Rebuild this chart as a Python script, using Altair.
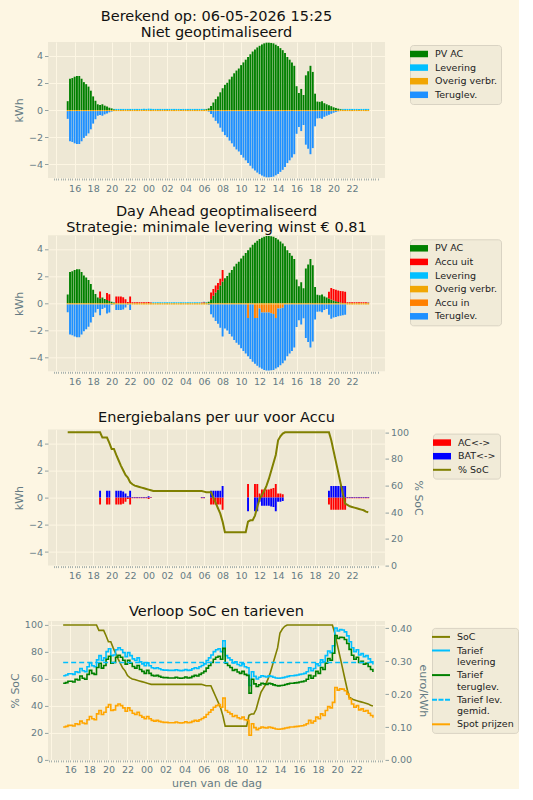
import altair as alt
import pandas as pd

FONT = "DejaVu Sans"
BG = "#FDF6E3"
PANEL = "#EEE8D5"
GRID = "#FDF6E3"
TXT = "#657b83"
OLIVE = "#808000"

# quarter-hour slots, first slot 15:15 on day one, last 23:45 on day two
quarter_start = 15.25

# --- energy per quarter (kWh), one row per hour (first row 15:15..15:45) ---
pv_ac = [
    0.65, 2.30, 2.35,
    2.45, 2.50, 2.50, 2.30,
    2.05, 1.90, 1.72, 1.42,
    1.00, 0.68, 0.42, 0.37,
    0.42, 0.32, 0.25, 0.17,
    0.12, 0.05, 0.00, 0.00,
    0.00, 0.00, 0.00, 0.00,
    0.00, 0.00, 0.00, 0.00,
    0.00, 0.00, 0.00, 0.00,
    0.00, 0.00, 0.00, 0.00,
    0.00, 0.00, 0.00, 0.00,
    0.00, 0.00, 0.00, 0.00,
    0.00, 0.00, 0.00, 0.00,
    0.00, 0.00, 0.00, 0.00,
    0.00, 0.00, 0.00, 0.00,
    0.03, 0.06, 0.12, 0.30,
    0.55, 0.80, 1.00, 1.30,
    1.60, 1.85, 2.00, 2.25,
    2.45, 2.70, 2.90, 3.05,
    3.30, 3.50, 3.70, 3.90,
    4.10, 4.30, 4.45, 4.60,
    4.72, 4.82, 4.90, 4.95,
    4.95, 4.93, 4.90, 4.80,
    4.70, 4.55, 4.40, 4.20,
    3.90, 3.70, 3.50, 3.25,
    1.75, 1.25, 1.55, 1.10,
    2.55, 2.85, 3.25, 2.80,
    1.20, 0.62, 0.60, 0.65,
    0.50, 0.42, 0.35, 0.28,
    0.20, 0.15, 0.10, 0.06,
    0.03, 0.00, 0.00, 0.00,
    0.00, 0.00, 0.00, 0.00,
    0.00, 0.00, 0.00, 0.00,
]

levering_basis = [
    0.00, 0.00, 0.00,
    0.00, 0.00, 0.00, 0.00,
    0.00, 0.00, 0.00, 0.00,
    0.00, 0.00, 0.00, 0.00,
    0.00, 0.00, 0.00, 0.00,
    0.00, 0.03, 0.08, 0.08,
    0.08, 0.08, 0.08, 0.08,
    0.08, 0.08, 0.08, 0.08,
    0.08, 0.08, 0.09, 0.08,
    0.10, 0.09, 0.08, 0.08,
    0.08, 0.08, 0.08, 0.08,
    0.08, 0.08, 0.08, 0.08,
    0.08, 0.08, 0.08, 0.08,
    0.08, 0.08, 0.08, 0.08,
    0.08, 0.08, 0.08, 0.08,
    0.05, 0.02, 0.00, 0.00,
    0.00, 0.00, 0.00, 0.00,
    0.00, 0.00, 0.00, 0.00,
    0.00, 0.00, 0.00, 0.00,
    0.00, 0.00, 0.00, 0.00,
    0.00, 0.00, 0.00, 0.00,
    0.00, 0.00, 0.00, 0.00,
    0.00, 0.00, 0.00, 0.00,
    0.00, 0.00, 0.00, 0.00,
    0.00, 0.00, 0.00, 0.00,
    0.00, 0.00, 0.00, 0.00,
    0.00, 0.00, 0.00, 0.00,
    0.00, 0.00, 0.00, 0.00,
    0.00, 0.00, 0.00, 0.00,
    0.00, 0.00, 0.00, 0.02,
    0.05, 0.08, 0.08, 0.08,
    0.08, 0.08, 0.08, 0.08,
    0.08, 0.08, 0.08, 0.08,
]

overig_verbr = [
    -0.08, -0.08, -0.08,
    -0.08, -0.08, -0.08, -0.08,
    -0.08, -0.08, -0.08, -0.08,
    -0.08, -0.08, -0.08, -0.08,
    -0.08, -0.08, -0.08, -0.08,
    -0.08, -0.08, -0.08, -0.08,
    -0.08, -0.08, -0.08, -0.08,
    -0.08, -0.08, -0.08, -0.08,
    -0.08, -0.08, -0.08, -0.08,
    -0.08, -0.08, -0.08, -0.08,
    -0.08, -0.08, -0.08, -0.08,
    -0.08, -0.08, -0.08, -0.08,
    -0.08, -0.08, -0.08, -0.08,
    -0.08, -0.08, -0.08, -0.08,
    -0.08, -0.08, -0.08, -0.08,
    -0.08, -0.08, -0.08, -0.08,
    -0.08, -0.08, -0.08, -0.08,
    -0.08, -0.08, -0.08, -0.08,
    -0.08, -0.08, -0.08, -0.08,
    -0.08, -0.08, -0.08, -0.08,
    -0.08, -0.08, -0.08, -0.08,
    -0.08, -0.08, -0.08, -0.08,
    -0.08, -0.08, -0.08, -0.08,
    -0.08, -0.08, -0.08, -0.08,
    -0.08, -0.08, -0.08, -0.08,
    -0.08, -0.08, -0.08, -0.08,
    -0.08, -0.08, -0.08, -0.08,
    -0.08, -0.08, -0.08, -0.08,
    -0.08, -0.08, -0.08, -0.08,
    -0.08, -0.08, -0.08, -0.08,
    -0.08, -0.08, -0.08, -0.08,
    -0.08, -0.08, -0.08, -0.08,
    -0.08, -0.08, -0.08, -0.08,
]

teruglevering_basis = [
    -0.57, -2.22, -2.27,
    -2.37, -2.42, -2.42, -2.22,
    -1.97, -1.82, -1.64, -1.34,
    -0.92, -0.60, -0.34, -0.29,
    -0.34, -0.24, -0.17, -0.09,
    -0.04, 0.00, 0.00, 0.00,
    0.00, 0.00, 0.00, 0.00,
    0.00, 0.00, 0.00, 0.00,
    0.00, 0.00, 0.00, 0.00,
    0.00, 0.00, 0.00, 0.00,
    0.00, 0.00, 0.00, 0.00,
    0.00, 0.00, 0.00, 0.00,
    0.00, 0.00, 0.00, 0.00,
    0.00, 0.00, 0.00, 0.00,
    0.00, 0.00, 0.00, 0.00,
    0.00, 0.00, -0.04, -0.22,
    -0.47, -0.72, -0.92, -1.22,
    -1.52, -1.77, -1.92, -2.17,
    -2.37, -2.62, -2.82, -2.97,
    -3.22, -3.42, -3.62, -3.82,
    -4.02, -4.22, -4.37, -4.52,
    -4.64, -4.74, -4.82, -4.87,
    -4.87, -4.85, -4.82, -4.72,
    -4.62, -4.47, -4.32, -4.12,
    -3.82, -3.62, -3.42, -3.17,
    -1.67, -1.17, -1.47, -1.02,
    -2.47, -2.77, -3.17, -2.72,
    -1.12, -0.54, -0.52, -0.57,
    -0.42, -0.34, -0.27, -0.20,
    -0.12, -0.07, -0.02, 0.00,
    0.00, 0.00, 0.00, 0.00,
    0.00, 0.00, 0.00, 0.00,
    0.00, 0.00, 0.00, 0.00,
]

accu_uit = [
    0.00, 0.00, 0.00,
    0.00, 0.00, 0.00, 0.00,
    0.00, 0.00, 0.00, 0.00,
    0.00, 0.00, 0.00, 0.50,
    0.00, 0.00, 0.50, 0.50,
    0.00, 0.00, 0.50, 0.50,
    0.50, 0.45, 0.30, 0.10,
    0.50, 0.08, 0.08, 0.08,
    0.08, 0.08, 0.08, 0.08,
    0.10, 0.06, 0.00, 0.00,
    0.00, 0.00, 0.00, 0.00,
    0.00, 0.00, 0.00, 0.00,
    0.00, 0.00, 0.00, 0.00,
    0.00, 0.00, 0.00, 0.00,
    0.00, 0.00, 0.00, 0.05,
    0.05, 0.00, 0.00, 0.50,
    0.50, 0.50, 0.50, 0.50,
    0.85, 0.00, 0.00, 0.00,
    0.00, 0.00, 0.00, 0.00,
    0.00, 0.00, 0.00, 0.00,
    0.00, 0.00, 0.00, 0.00,
    0.00, 0.00, 0.00, 0.00,
    0.00, 0.00, 0.00, 0.00,
    0.00, 0.00, 0.00, 0.00,
    0.00, 0.00, 0.00, 0.00,
    0.00, 0.00, 0.00, 0.00,
    0.00, 0.00, 0.00, 0.00,
    0.00, 0.00, 0.00, 0.00,
    0.00, 0.00, 0.50, 0.85,
    0.85, 0.85, 0.85, 0.85,
    0.85, 0.85, 0.08, 0.08,
    0.08, 0.08, 0.08, 0.08,
    0.08, 0.08, 0.08, 0.06,
]

levering_opt = [
    0.00, 0.00, 0.00,
    0.00, 0.00, 0.00, 0.00,
    0.00, 0.00, 0.00, 0.00,
    0.00, 0.00, 0.00, 0.00,
    0.00, 0.00, 0.00, 0.00,
    0.00, 0.03, 0.00, 0.00,
    0.00, 0.00, 0.00, 0.00,
    0.00, 0.00, 0.00, 0.00,
    0.00, 0.00, 0.00, 0.00,
    0.00, 0.02, 0.08, 0.08,
    0.08, 0.08, 0.08, 0.08,
    0.08, 0.08, 0.08, 0.08,
    0.08, 0.08, 0.08, 0.08,
    0.08, 0.08, 0.08, 0.08,
    0.08, 0.08, 0.08, 0.03,
    0.03, 0.02, 0.00, 0.00,
    0.00, 0.00, 0.00, 0.00,
    0.00, 0.00, 0.00, 0.00,
    0.00, 0.00, 0.00, 0.00,
    0.00, 0.00, 0.00, 0.00,
    0.00, 0.00, 0.00, 0.00,
    0.00, 0.00, 0.00, 0.00,
    0.00, 0.00, 0.00, 0.00,
    0.00, 0.00, 0.00, 0.00,
    0.00, 0.00, 0.00, 0.00,
    0.00, 0.00, 0.00, 0.00,
    0.00, 0.00, 0.00, 0.00,
    0.00, 0.00, 0.00, 0.00,
    0.00, 0.00, 0.00, 0.00,
    0.00, 0.00, 0.00, 0.00,
    0.00, 0.00, 0.00, 0.00,
    0.00, 0.00, 0.00, 0.00,
    0.00, 0.00, 0.00, 0.02,
]

accu_in = [
    0.00, 0.00, 0.00,
    0.00, 0.00, 0.00, 0.00,
    0.00, 0.00, 0.00, 0.00,
    0.00, 0.00, 0.00, 0.00,
    0.00, 0.00, 0.00, 0.00,
    0.00, 0.00, 0.00, 0.00,
    0.00, 0.00, 0.00, 0.00,
    0.00, 0.00, 0.00, 0.00,
    0.00, 0.00, 0.00, 0.00,
    0.00, 0.00, 0.00, 0.00,
    0.00, 0.00, 0.00, 0.00,
    0.00, 0.00, 0.00, 0.00,
    0.00, 0.00, 0.00, 0.00,
    0.00, 0.00, 0.00, 0.00,
    0.00, 0.00, 0.00, 0.00,
    0.00, 0.00, 0.00, 0.00,
    0.00, 0.00, 0.00, 0.00,
    0.00, 0.00, 0.00, 0.00,
    0.00, 0.00, 0.00, 0.00,
    0.00, 0.00, 0.00, -1.00,
    0.00, 0.00, -1.00, -1.00,
    -0.30, -0.60, -0.60, -0.60,
    -0.60, -0.65, -0.70, -1.00,
    -0.30, -0.30, -0.25, 0.00,
    0.00, 0.00, 0.00, 0.00,
    0.00, 0.00, 0.00, 0.00,
    0.00, 0.00, 0.00, 0.00,
    0.00, 0.00, 0.00, 0.00,
    0.00, 0.00, 0.00, 0.00,
    0.00, 0.00, 0.00, 0.00,
    0.00, 0.00, 0.00, 0.00,
    0.00, 0.00, 0.00, 0.00,
    0.00, 0.00, 0.00, 0.00,
]

teruglevering_opt = [
    -0.57, -2.22, -2.27,
    -2.37, -2.42, -2.42, -2.22,
    -1.97, -1.82, -1.64, -1.34,
    -0.92, -0.60, -0.34, -0.79,
    -0.34, -0.24, -0.67, -0.59,
    -0.04, 0.00, -0.42, -0.42,
    -0.42, -0.37, -0.22, -0.02,
    -0.42, 0.00, 0.00, 0.00,
    0.00, 0.00, 0.00, 0.00,
    0.00, 0.00, 0.00, 0.00,
    0.00, 0.00, 0.00, 0.00,
    0.00, 0.00, 0.00, 0.00,
    0.00, 0.00, 0.00, 0.00,
    0.00, 0.00, 0.00, 0.00,
    0.00, 0.00, 0.00, 0.00,
    0.00, 0.00, -0.04, -0.72,
    -0.97, -1.22, -1.42, -1.72,
    -2.37, -1.77, -1.92, -2.17,
    -2.37, -2.62, -2.82, -2.97,
    -3.22, -3.42, -3.62, -2.82,
    -4.02, -4.22, -3.37, -3.52,
    -4.34, -4.14, -4.22, -4.27,
    -4.27, -4.20, -4.12, -3.72,
    -4.32, -4.17, -4.07, -4.12,
    -3.82, -3.62, -3.42, -3.17,
    -1.67, -1.17, -1.47, -1.02,
    -2.47, -2.77, -3.17, -2.72,
    -1.12, -0.54, -0.52, -0.57,
    -0.42, -0.34, -0.77, -1.05,
    -0.97, -0.92, -0.87, -0.83,
    -0.80, -0.77, 0.00, 0.00,
    0.00, 0.00, 0.00, 0.00,
    0.00, 0.00, 0.00, 0.00,
]

# battery balance per quarter: AC side and battery side (kWh)
ac_balans = [
    0.00, 0.00, 0.00,
    0.00, 0.00, 0.00, 0.00,
    0.00, 0.00, 0.00, 0.00,
    0.00, 0.00, 0.00, -0.50,
    0.00, 0.00, -0.50, -0.50,
    0.00, 0.00, -0.50, -0.50,
    -0.50, -0.45, -0.30, -0.10,
    -0.50, -0.05, -0.05, -0.05,
    -0.05, -0.05, -0.05, -0.05,
    -0.10, -0.03, 0.00, 0.00,
    0.00, 0.00, 0.00, 0.00,
    0.00, 0.00, 0.00, 0.00,
    0.00, 0.00, 0.00, 0.00,
    0.00, 0.00, 0.00, 0.00,
    0.00, 0.00, 0.00, -0.05,
    -0.05, 0.00, 0.00, -0.50,
    -0.50, -0.50, -0.50, -0.50,
    -0.90, 0.00, 0.00, 0.00,
    0.00, 0.00, 0.00, 0.00,
    0.00, 0.00, 0.00, 1.00,
    0.00, 0.00, 1.00, 1.00,
    0.30, 0.60, 0.60, 0.60,
    0.60, 0.65, 0.70, 1.00,
    0.30, 0.30, 0.25, 0.00,
    0.00, 0.00, 0.00, 0.00,
    0.00, 0.00, 0.00, 0.00,
    0.00, 0.00, 0.00, 0.00,
    0.00, 0.00, 0.00, 0.00,
    0.00, 0.00, -0.50, -0.90,
    -0.90, -0.90, -0.90, -0.90,
    -0.90, -0.90, -0.05, -0.05,
    -0.05, -0.05, -0.05, -0.05,
    -0.05, -0.05, -0.05, -0.04,
]

bat_balans = [
    0.00, 0.00, 0.00,
    0.00, 0.00, 0.00, 0.00,
    0.00, 0.00, 0.00, 0.00,
    0.00, 0.00, 0.00, 0.50,
    0.00, 0.00, 0.50, 0.50,
    0.00, 0.00, 0.50, 0.50,
    0.50, 0.45, 0.30, 0.10,
    0.50, 0.05, 0.05, 0.05,
    0.05, 0.05, 0.05, 0.05,
    0.10, 0.03, 0.00, 0.00,
    0.00, 0.00, 0.00, 0.00,
    0.00, 0.00, 0.00, 0.00,
    0.00, 0.00, 0.00, 0.00,
    0.00, 0.00, 0.00, 0.00,
    0.00, 0.00, 0.00, 0.05,
    0.05, 0.00, 0.00, 0.50,
    0.50, 0.50, 0.50, 0.50,
    0.85, 0.00, 0.00, 0.00,
    0.00, 0.00, 0.00, 0.00,
    0.00, 0.00, 0.00, -1.00,
    0.00, 0.00, -1.00, -1.00,
    -0.30, -0.60, -0.60, -0.60,
    -0.60, -0.65, -0.70, -1.00,
    -0.30, -0.30, -0.25, 0.00,
    0.00, 0.00, 0.00, 0.00,
    0.00, 0.00, 0.00, 0.00,
    0.00, 0.00, 0.00, 0.00,
    0.00, 0.00, 0.00, 0.00,
    0.00, 0.00, 0.50, 0.85,
    0.85, 0.85, 0.85, 0.85,
    0.85, 0.85, 0.05, 0.05,
    0.05, 0.05, 0.05, 0.05,
    0.05, 0.05, 0.05, 0.04,
]

# state of charge (%)
soc = [
    100, 100, 100,
    100, 100, 100, 100,
    100, 100, 100, 100,
    100, 100, 100, 100,
    96, 96, 96, 92,
    87.5, 87.5, 83, 79,
    75, 71.5, 68, 66,
    62.5, 61, 60, 59.5,
    59, 58.5, 58, 57.5,
    57, 56.5, 56, 56,
    56, 56, 56, 56,
    56, 56, 56, 56,
    56, 56, 56, 56,
    56, 56, 56, 56,
    56, 56, 56, 56,
    55.5, 55, 55, 55,
    51, 47, 43, 39,
    33, 25, 25, 25,
    25, 25, 25, 25,
    25, 25, 25, 33,
    34, 34, 37.5, 44,
    50, 53, 56, 60,
    65, 71, 77, 83,
    94, 97, 99, 100,
    100, 100, 100, 100,
    100, 100, 100, 100,
    100, 100, 100, 100,
    100, 100, 100, 100,
    100, 100, 100, 94,
    86, 78, 70, 62,
    54, 46.5, 45.5, 44.5,
    44, 43.5, 43, 42.5,
    42, 41.5, 40.5, 40,
]

# prices (euro/kWh)
spot_prijs = [
    0.100, 0.102, 0.105,
    0.105, 0.103, 0.110, 0.108,
    0.118, 0.112, 0.110, 0.122,
    0.132, 0.125, 0.122, 0.140,
    0.150, 0.138, 0.145, 0.160,
    0.168, 0.150, 0.152, 0.165,
    0.170, 0.165, 0.158, 0.148,
    0.158, 0.150, 0.142, 0.138,
    0.145, 0.135, 0.130, 0.125,
    0.132, 0.125, 0.120, 0.118,
    0.120, 0.117, 0.115, 0.114,
    0.114, 0.113, 0.113, 0.113,
    0.115, 0.113, 0.112, 0.113,
    0.116, 0.113, 0.114, 0.117,
    0.120, 0.118, 0.122, 0.126,
    0.130, 0.138, 0.145, 0.152,
    0.160, 0.165, 0.168, 0.160,
    0.188, 0.150, 0.145, 0.140,
    0.132, 0.135, 0.128, 0.125,
    0.130, 0.122, 0.120, 0.075,
    0.110, 0.098, 0.092, 0.096,
    0.100, 0.098, 0.097, 0.100,
    0.098, 0.096, 0.094, 0.093,
    0.094, 0.095, 0.097, 0.098,
    0.100, 0.100, 0.101, 0.102,
    0.103, 0.104, 0.106, 0.110,
    0.120, 0.112, 0.118, 0.130,
    0.125, 0.140, 0.135, 0.150,
    0.162, 0.158, 0.175, 0.220,
    0.212, 0.216, 0.215, 0.210,
    0.200, 0.185, 0.170, 0.160,
    0.165, 0.152, 0.155, 0.148,
    0.150, 0.142, 0.135, 0.128,
]

tarief_levering = [
    0.256, 0.258, 0.262,
    0.262, 0.260, 0.268, 0.266,
    0.278, 0.271, 0.268, 0.283,
    0.295, 0.286, 0.283, 0.304,
    0.317, 0.302, 0.310, 0.329,
    0.338, 0.317, 0.319, 0.335,
    0.341, 0.335, 0.326, 0.314,
    0.326, 0.317, 0.307, 0.302,
    0.310, 0.298, 0.292, 0.286,
    0.295, 0.286, 0.280, 0.278,
    0.280, 0.277, 0.274, 0.273,
    0.273, 0.272, 0.272, 0.272,
    0.274, 0.272, 0.271, 0.272,
    0.275, 0.272, 0.273, 0.277,
    0.280, 0.278, 0.283, 0.287,
    0.292, 0.302, 0.310, 0.319,
    0.329, 0.335, 0.338, 0.329,
    0.362, 0.317, 0.310, 0.304,
    0.295, 0.298, 0.290, 0.286,
    0.292, 0.283, 0.280, 0.226,
    0.268, 0.254, 0.246, 0.251,
    0.256, 0.254, 0.252, 0.256,
    0.254, 0.251, 0.249, 0.248,
    0.249, 0.250, 0.252, 0.254,
    0.256, 0.256, 0.257, 0.258,
    0.260, 0.261, 0.263, 0.268,
    0.280, 0.271, 0.278, 0.292,
    0.286, 0.304, 0.298, 0.317,
    0.331, 0.326, 0.347, 0.401,
    0.392, 0.396, 0.395, 0.389,
    0.377, 0.359, 0.341, 0.329,
    0.335, 0.319, 0.323, 0.314,
    0.317, 0.307, 0.298, 0.290,
]

tarief_teruglevering = [
    0.233, 0.235, 0.239,
    0.239, 0.237, 0.245, 0.243,
    0.255, 0.248, 0.245, 0.260,
    0.272, 0.263, 0.260, 0.281,
    0.294, 0.279, 0.287, 0.306,
    0.315, 0.294, 0.296, 0.312,
    0.318, 0.312, 0.303, 0.291,
    0.303, 0.294, 0.284, 0.279,
    0.287, 0.275, 0.269, 0.263,
    0.272, 0.263, 0.257, 0.255,
    0.257, 0.254, 0.251, 0.250,
    0.250, 0.249, 0.249, 0.249,
    0.251, 0.249, 0.248, 0.249,
    0.252, 0.249, 0.250, 0.254,
    0.257, 0.255, 0.260, 0.264,
    0.269, 0.279, 0.287, 0.296,
    0.306, 0.312, 0.315, 0.306,
    0.339, 0.294, 0.287, 0.281,
    0.272, 0.275, 0.267, 0.263,
    0.269, 0.260, 0.257, 0.203,
    0.245, 0.231, 0.223, 0.228,
    0.233, 0.231, 0.229, 0.233,
    0.231, 0.228, 0.226, 0.225,
    0.226, 0.227, 0.229, 0.231,
    0.233, 0.233, 0.234, 0.235,
    0.237, 0.238, 0.240, 0.245,
    0.257, 0.248, 0.255, 0.269,
    0.263, 0.281, 0.275, 0.294,
    0.308, 0.303, 0.324, 0.378,
    0.369, 0.373, 0.372, 0.366,
    0.354, 0.336, 0.318, 0.306,
    0.312, 0.296, 0.300, 0.291,
    0.294, 0.284, 0.275, 0.267,
]

tarief_levering_gemiddeld = 0.296

hours = [quarter_start + 0.25 * k for k in range(len(pv_ac))]

# --- shared styling helpers ---
X_DOMAIN = [13.66, 49.02]
W = 337
H = 136

x_ticks = [13.75 + 0.25 * k for k in range(141)]


def x_axis(title=None):
    return alt.Axis(
        values=x_ticks,
        title=title,
        grid=True,
        gridOpacity={"condition": {"test": "datum.value % 2 === 0", "value": 1}, "value": 0},
        labelExpr="datum.value % 2 === 0 && datum.value >= 16 && datum.value <= 46 ? format(datum.value % 24, '02d') : ''",
        labelOverlap=False,
        labelBound=False,
        labelFlush=False,
        tickSize=2,
        tickWidth=0.8,
        labelPadding=3,
        titlePadding=3,
    )


def x_enc(title=None):
    return alt.X("t:Q", scale=alt.Scale(domain=X_DOMAIN, nice=False, zero=False), axis=x_axis(title))


RECT = "M-1.8,-0.65H1.8V0.65H-1.8Z"
LINE = "M-1.8,-0.2H1.8V0.2H-1.8Z"
DASH = "M-1.8,-0.2H-0.8V0.2H-1.8Z M-0.5,-0.2H0.5V0.2H-0.5Z M0.8,-0.2H1.8V0.2H0.8Z"


def key(names, colors, shapes, lx, ly, label_expr=None):
    opts = dict(
        title=None, orient="none", legendX=lx, legendY=ly,
        symbolSize=100, symbolStrokeWidth=0, labelOffset=11,
        labelFont=FONT, labelFontSize=9.5, labelColor="#222222",
        padding=4, rowPadding=3.6, fillColor="#F1EBD8", strokeColor="#D9D3C3",
        cornerRadius=3,
    )
    if label_expr:
        opts["labelExpr"] = label_expr
    lg = alt.Legend(**opts)
    return (
        alt.Chart(pd.DataFrame({"series": names}))
        .transform_filter("false")
        .mark_point(filled=True, opacity=1)
        .encode(
            x=alt.value(0), y=alt.value(0),
            color=alt.Color("series:N", scale=alt.Scale(domain=names, range=colors), legend=lg),
            shape=alt.Shape("series:N", scale=alt.Scale(domain=names, range=shapes), legend=lg),
        )
    )


def long_frame(series):
    rows = []
    for order, (name, vals) in enumerate(series):
        for t, v in zip(hours, vals):
            rows.append({"t": t, "value": v, "series": name, "order": order})
    return pd.DataFrame(rows)


def stacked_bars(series, colors):
    names = [s[0] for s in series]
    return (
        alt.Chart(long_frame(series))
        .mark_bar(size=1.9, clip=True)
        .encode(
            x=x_enc(),
            y=alt.Y("value:Q", stack="zero", scale=alt.Scale(domain=[-5, 5], nice=False),
                    axis=alt.Axis(values=[-4, -2, 0, 2, 4], title="kWh")),
            color=alt.Color("series:N", scale=alt.Scale(domain=names, range=colors), legend=None),
            order=alt.Order("order:Q"),
        )
    )


def title(lines, offset, line_height=16):
    return alt.TitleParams(text=lines, font=FONT, fontSize=14.5, fontWeight="normal",
                           color="#111111", anchor="middle", frame="group",
                           lineHeight=line_height, offset=offset)


# --- panel 1: no optimisation ---
p1_series = [
    ("PV AC", pv_ac), ("Levering", levering_basis),
    ("Overig verbr.", overig_verbr), ("Teruglev.", teruglevering_basis),
]
p1_colors = ["#008000", "#00BFFF", "#F1A603", "#1E90FF"]
panel1 = alt.layer(
    stacked_bars(p1_series, p1_colors),
    key([s[0] for s in p1_series], p1_colors, [RECT] * 4, 362, 3),
).resolve_scale(color="independent", shape="independent").properties(
    width=W, height=H, title=title(["Berekend op: 06-05-2026 15:25", "Niet geoptimaliseerd"], 2))

# --- panel 2: day-ahead optimised ---
p2_series = [
    ("PV AC", pv_ac), ("Accu uit", accu_uit), ("Levering", levering_opt),
    ("Overig verbr.", overig_verbr), ("Accu in", accu_in), ("Teruglev.", teruglevering_opt),
]
p2_colors = ["#008000", "#FF0000", "#00BFFF", "#F1A603", "#FF8000", "#1E90FF"]
panel2 = alt.layer(
    stacked_bars(p2_series, p2_colors),
    key([s[0] for s in p2_series], p2_colors, [RECT] * 6, 362, 4),
).resolve_scale(color="independent", shape="independent").properties(
    width=W, height=H,
    title=title(["Day Ahead geoptimaliseerd", "Strategie: minimale levering winst \u20ac 0.81"], 0))

# --- panel 3: battery energy balance + SoC ---
p3_df = long_frame([("AC<->", ac_balans), ("BAT<->", bat_balans)])
p3_bars = (
    alt.Chart(p3_df).mark_bar(size=1.9, clip=True).encode(
        x=x_enc(),
        y=alt.Y("value:Q", stack=None, scale=alt.Scale(domain=[-5, 5], nice=False),
                axis=alt.Axis(values=[-4, -2, 0, 2, 4], title="kWh")),
        color=alt.Color("series:N", scale=alt.Scale(domain=["AC<->", "BAT<->"], range=["#FF0000", "#0000FF"]),
                        legend=None),
    )
)
soc_df = pd.DataFrame({"t": hours, "soc": soc})
p3_soc = alt.Chart(soc_df).mark_line(color=OLIVE, strokeWidth=2, clip=True).encode(
    x=x_enc(),
    y=alt.Y("soc:Q", scale=alt.Scale(domain=[0, 102], nice=False),
            axis=alt.Axis(values=[0, 20, 40, 60, 80, 100], title="% SoC", orient="right")),
)
panel3 = alt.layer(
    p3_bars, p3_soc,
    key(["AC<->", "BAT<->", "% SoC"], ["#FF0000", "#0000FF", OLIVE], [RECT, RECT, LINE], 385, 4),
).resolve_scale(y="independent", color="independent", shape="independent").properties(
    width=W, height=H, title=title(["", "Energiebalans per uur voor Accu"], 2, 12.4))

# --- panel 4: SoC and tariffs ---
tarief_df = pd.DataFrame({
    "t": hours, "Tarief levering": tarief_levering,
    "Tarief teruglev.": tarief_teruglevering, "Spot prijzen": spot_prijs,
}).melt("t", var_name="series", value_name="prijs")
gem_df = pd.DataFrame({"t": [hours[0]], "t2": [hours[-1]], "prijs": [tarief_levering_gemiddeld]})

price_scale = alt.Scale(domain=[0, 0.4225], nice=False)
price_axis = alt.Axis(values=[0, 0.1, 0.2, 0.3, 0.4], format=".2f", title="euro/kWh", orient="right",
                      titlePadding=6)

p4_soc = alt.Chart(soc_df).mark_line(color=OLIVE, strokeWidth=1.6, clip=True).encode(
    x=x_enc("uren van de dag"),
    y=alt.Y("soc:Q", scale=alt.Scale(domain=[0, 103], nice=False),
            axis=alt.Axis(values=[0, 20, 40, 60, 80, 100], title="% SoC")),
)
p4_prices = alt.layer(
    alt.Chart(tarief_df).mark_line(interpolate="step-after", strokeWidth=1.6, clip=True).encode(
        x=x_enc("uren van de dag"),
        y=alt.Y("prijs:Q", scale=price_scale, axis=price_axis),
        color=alt.Color("series:N", scale=alt.Scale(
            domain=["Tarief levering", "Tarief teruglev.", "Spot prijzen"],
            range=["#00BFFF", "#008000", "#FFA500"]), legend=None),
    ),
    alt.Chart(gem_df).mark_rule(color="#00BFFF", strokeWidth=1.6, strokeDash=[5, 3]).encode(
        x=x_enc("uren van de dag"), x2="t2:Q",
        y=alt.Y("prijs:Q", scale=price_scale, axis=price_axis),
    ),
)
p4_names = ["SoC", "Tarief levering", "Tarief teruglev.", "Tarief lev. gemid.", "Spot prijzen"]
p4_label = ("datum.label == 'Tarief levering' ? ['Tarief', 'levering'] : "
            "datum.label == 'Tarief teruglev.' ? ['Tarief', 'teruglev.'] : "
            "datum.label == 'Tarief lev. gemid.' ? ['Tarief lev.', 'gemid.'] : datum.label")
panel4 = alt.layer(
    p4_soc, p4_prices,
    key(p4_names, [OLIVE, "#00BFFF", "#008000", "#00BFFF", "#FFA500"], [LINE, LINE, LINE, DASH, LINE],
        384, 7, p4_label),
).resolve_scale(y="independent", color="independent", shape="independent").properties(
    width=W, height=139, title=title(["", "Verloop SoC en tarieven"], 0.3, 12.4))

chart = (
    alt.vconcat(panel1, panel2, panel3, panel4)
    .resolve_scale(color="independent", shape="independent")
    .properties(padding={"left": 9, "top": 8, "right": 0, "bottom": 0}, background=BG)
    .configure_view(fill=PANEL, stroke=None)
    .configure_concat(spacing=10.3)
    .configure_axis(
        domain=False, gridColor=GRID, gridWidth=1, tickColor="#93a1a1", tickSize=3.5,
        labelFont=FONT, labelFontSize=9.5, labelColor=TXT, titleFont=FONT, titleFontSize=11,
        titleFontWeight="normal", titleColor=TXT, labelPadding=2,
    )
)

chart.save("out.html", embed_options={"renderer": "svg", "actions": False})
